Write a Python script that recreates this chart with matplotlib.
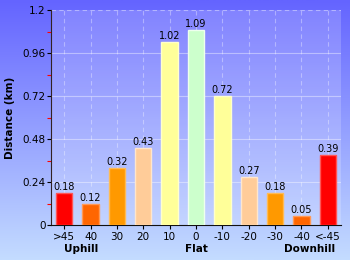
import numpy as np
import matplotlib
matplotlib.use("Agg")
import matplotlib.pyplot as plt
from matplotlib.colors import LinearSegmentedColormap

categories = [">45", "40", "30", "20", "10", "0", "-10", "-20", "-30", "-40", "<-45"]
distances = [0.18, 0.12, 0.32, 0.43, 1.02, 1.09, 0.72, 0.27, 0.18, 0.05, 0.39]
bar_colors = ["#ff0000", "#ff6600", "#ff9900", "#ffcc99", "#ffff99", "#ccffcc",
              "#ffff99", "#ffcc99", "#ff9900", "#ff6600", "#ff0000"]
edge_colors = ["#ff5555", "#ff9955", "#ffbb55", "#ffe6cc", "#ffffcc", "#eeffee",
               "#ffffcc", "#ffe6cc", "#ffbb55", "#ff9955", "#ff5555"]
yticks = [0, 0.24, 0.48, 0.72, 0.96, 1.2]
ytick_labels = ["0", "0.24", "0.48", "0.72", "0.96", "1.2"]
groups = [("Uphill", 0.65), ("Flat", 5), ("Downhill", 9.3)]

fig = plt.figure(figsize=(3.5, 2.6), dpi=100)

# background gradient over whole figure
bg = fig.add_axes([0, 0, 1, 1], zorder=-10)
cmap = LinearSegmentedColormap.from_list("bg", ["#6464ff", "#c4dcff"])
grad = np.linspace(0, 1, 256).reshape(-1, 1)
bg.imshow(grad, aspect="auto", cmap=cmap, extent=[0, 1, 0, 1], origin="upper")
bg.set_axis_off()

ax = fig.add_axes([51 / 350, 35 / 260, 290 / 350, 215 / 260])
ax.patch.set_facecolor("white")
ax.patch.set_alpha(0.18)

x = np.arange(len(categories))
ax.bar(x, distances, width=0.62, color=bar_colors, edgecolor=edge_colors,
       linewidth=1, zorder=3)
for xi, v in zip(x, distances):
    ax.text(xi, v + 0.005, f"{v:.2f}", ha="center", va="bottom", fontsize=7,
            color="black", zorder=4)

ax.set_xlim(-0.5, len(categories) - 0.5)
ax.set_ylim(0, 1.2)
ax.set_yticks(yticks)
ax.set_yticklabels(ytick_labels, fontsize=7.5)
ax.set_yticks([0.12, 0.36, 0.6, 0.84, 1.08], minor=True)
ax.tick_params(axis="y", which="minor", length=3, color="red", width=0.8)
ax.tick_params(axis="y", which="major", length=3, pad=1, width=0.8)
ax.set_xticks(x)
ax.set_xticklabels(categories, fontsize=7.5)
ax.tick_params(axis="x", length=3, pad=2, width=0.8)

for y in yticks[1:-1]:
    ax.axhline(y, color="white", alpha=0.4, linewidth=0.8, zorder=1)
ax.axhline(1.2, color="white", alpha=0.4, linewidth=0.8, linestyle=(0, (4, 3)), zorder=1)
for xi in x:
    ax.axvline(xi, color="white", alpha=0.35, linewidth=0.8, linestyle=(0, (4, 3)), zorder=1)

for s in ["top", "right"]:
    ax.spines[s].set_visible(False)
ax.spines["left"].set_color("#332222")
ax.spines["bottom"].set_color("#111111")

ax.set_ylabel("Distance (km)", fontsize=7.5, fontweight="bold", labelpad=5)
for label, gx in groups:
    ax.text(gx, -0.135, label, ha="center", va="center", fontsize=7.5,
            fontweight="bold", transform=ax.transData, clip_on=False)

fig.savefig("out.png", dpi=100)
